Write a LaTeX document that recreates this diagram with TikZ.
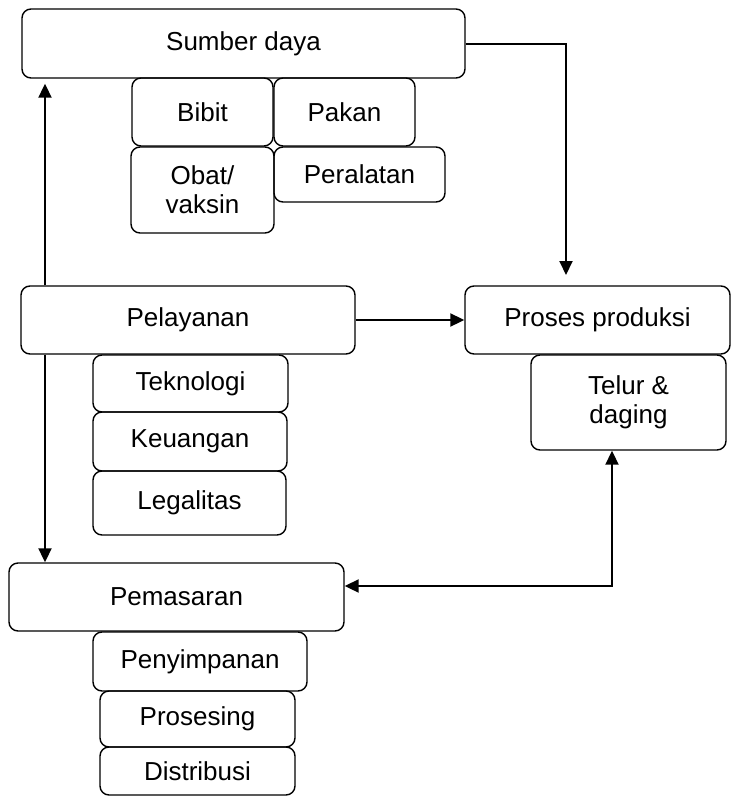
\documentclass[tikz,border=0pt]{standalone}
\usepackage{fontspec}
\setmainfont{Liberation Sans}
\usetikzlibrary{arrows.meta,calc}
\begin{document}
\begin{tikzpicture}[x=1pt,y=-1pt,
  kotak/.style={draw,line width=1.4pt,rounded corners=9pt,inner sep=0pt,align=center,
    font=\fontsize{26}{29}\selectfont},
  panah/.style={line width=2pt,-{Triangle[length=14pt,width=13pt]}},
  panah2/.style={line width=2pt,{Triangle[length=14pt,width=13pt]}-{Triangle[length=14pt,width=13pt]}}]
 \useasboundingbox (0,0) rectangle (732,796);
 % sumber daya
 \node[kotak,minimum width=443pt,minimum height=69pt] (sumber) at (243.5,43.5) {Sumber daya};
 \node[kotak,minimum width=141pt,minimum height=68pt] (bibit) at (202.5,112) {Bibit};
 \node[kotak,minimum width=141pt,minimum height=68pt] (pakan) at (344.5,112) {Pakan};
 \node[kotak,minimum width=143pt,minimum height=86pt] (obat) at (202.5,190) {Obat/\\vaksin};
 \node[kotak,minimum width=171pt,minimum height=55pt] (alat) at (359.5,174.5) {Peralatan};
 % pelayanan
 \node[kotak,minimum width=334pt,minimum height=68pt] (pelayanan) at (188,320) {Pelayanan};
 \node[kotak,minimum width=195pt,minimum height=57pt] (teknologi) at (190.5,383.5) {Teknologi};
 \node[kotak,minimum width=194pt,minimum height=59pt] (keuangan) at (190,441.5) {Keuangan};
 \node[kotak,minimum width=193pt,minimum height=64pt] (legalitas) at (189.5,503) {Legalitas};
 % produksi
 \node[kotak,minimum width=265pt,minimum height=68pt] (proses) at (597.5,320) {Proses produksi};
 \node[kotak,minimum width=195pt,minimum height=95pt] (telur) at (628.5,402.5) {Telur \&\\daging};
 % pemasaran
 \node[kotak,minimum width=335pt,minimum height=68pt] (pemasaran) at (176.5,597) {Pemasaran};
 \node[kotak,minimum width=214pt,minimum height=59pt] (simpan) at (200,661.5) {Penyimpanan};
 \node[kotak,minimum width=195pt,minimum height=56pt] (prosesing) at (197.5,719) {Prosesing};
 \node[kotak,minimum width=195pt,minimum height=48pt] (distribusi) at (197.5,771) {Distribusi};
 % panah
 \coordinate (kiri) at (45,0);
 \coordinate (turun) at (566,275);
 \coordinate (balik) at (612,586);
 \draw[panah] (sumber.east) -| (turun);
 \draw[panah] (pelayanan.east) -- (proses.west);
 \draw[panah,shorten >=5pt] (kiri |- pelayanan.north) -- (kiri |- sumber.south);
 \draw[panah] (kiri |- pelayanan.south) -- (kiri |- pemasaran.north);
 \draw[panah2] (pemasaran.east |- balik) -| (balik |- telur.south);
\end{tikzpicture}
\end{document}
